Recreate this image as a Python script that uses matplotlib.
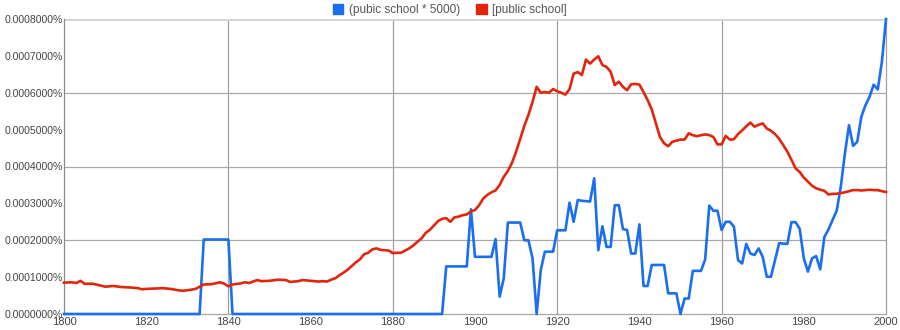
import matplotlib
matplotlib.use("Agg")
import matplotlib.pyplot as plt
from matplotlib.patches import Patch
from matplotlib.ticker import FuncFormatter

plt.rcParams['font.family'] = ['Liberation Sans', 'DejaVu Sans']

# values are in units of 1e-4 percent
SCALE = 1e-4

red_years = [1800, 1802, 1803, 1804, 1805, 1807, 1809, 1810, 1812, 1814, 1816, 1818, 1819,
             1820, 1822, 1824, 1826, 1828, 1829, 1831, 1832, 1833, 1834, 1836, 1838, 1839,
             1840, 1841, 1843, 1844, 1845, 1846, 1847, 1848, 1850, 1852, 1854, 1855, 1857,
             1858, 1860, 1862, 1863, 1864, 1865, 1866, 1867, 1868, 1869, 1870, 1871, 1872,
             1873, 1874, 1875, 1876, 1877, 1878, 1879, 1880, 1881, 1882, 1883, 1884, 1885,
             1886, 1887, 1888, 1889, 1890, 1891, 1892, 1893, 1894, 1895, 1896, 1897, 1898,
             1899, 1900, 1901, 1902, 1903, 1904, 1905, 1906, 1907, 1908, 1909, 1910, 1911,
             1912, 1913, 1914, 1915, 1916, 1917, 1918, 1919, 1920, 1921, 1922, 1923, 1924,
             1925, 1926, 1927, 1928, 1929, 1930, 1931, 1932, 1933, 1934, 1935, 1936, 1937,
             1938, 1939, 1940, 1941, 1942, 1943, 1944, 1945, 1946, 1947, 1948, 1949, 1950,
             1951, 1952, 1953, 1954, 1955, 1956, 1957, 1958, 1959, 1960, 1961, 1962, 1963,
             1964, 1965, 1966, 1967, 1968, 1969, 1970, 1971, 1972, 1973, 1974, 1975, 1976,
             1977, 1978, 1979, 1980, 1981, 1982, 1983, 1984, 1985, 1986, 1987, 1988, 1989,
             1990, 1991, 1992, 1993, 1994, 1995, 1996, 1997, 1998, 1999, 2000]
red_vals = [0.85, 0.86, 0.84, 0.90, 0.82, 0.82, 0.77, 0.74, 0.76, 0.73, 0.72, 0.70, 0.67,
            0.68, 0.69, 0.70, 0.68, 0.64, 0.63, 0.66, 0.68, 0.74, 0.80, 0.81, 0.86, 0.82,
            0.75, 0.80, 0.83, 0.86, 0.84, 0.88, 0.92, 0.89, 0.90, 0.93, 0.92, 0.87, 0.89,
            0.92, 0.90, 0.88, 0.89, 0.88, 0.93, 0.97, 1.05, 1.12, 1.20, 1.30, 1.40, 1.48,
            1.62, 1.66, 1.75, 1.78, 1.74, 1.73, 1.72, 1.65, 1.66, 1.66, 1.72, 1.78, 1.86,
            1.96, 2.05, 2.20, 2.28, 2.40, 2.52, 2.58, 2.60, 2.50, 2.62, 2.64, 2.68, 2.70,
            2.78, 2.82, 2.95, 3.13, 3.23, 3.30, 3.35, 3.50, 3.72, 3.88, 4.10, 4.40, 4.75,
            5.10, 5.40, 5.75, 6.16, 6.00, 6.02, 6.00, 6.10, 6.04, 6.00, 5.95, 6.10, 6.52,
            6.56, 6.48, 6.90, 6.79, 6.90, 6.99, 6.75, 6.70, 6.57, 6.21, 6.30, 6.16, 6.07,
            6.23, 6.24, 6.22, 6.02, 5.80, 5.55, 5.17, 4.80, 4.63, 4.55, 4.67, 4.70, 4.73,
            4.73, 4.90, 4.85, 4.82, 4.85, 4.87, 4.85, 4.80, 4.60, 4.60, 4.83, 4.73, 4.74,
            4.88, 4.98, 5.09, 5.19, 5.08, 5.13, 5.17, 5.03, 4.97, 4.88, 4.75, 4.58, 4.40,
            4.18, 3.95, 3.85, 3.70, 3.59, 3.48, 3.41, 3.37, 3.34, 3.24, 3.26, 3.26, 3.28,
            3.30, 3.33, 3.36, 3.36, 3.35, 3.36, 3.37, 3.36, 3.36, 3.33, 3.31]

blue_years = [1800, 1833, 1834, 1840, 1841, 1892, 1893, 1898, 1899, 1900, 1904, 1905, 1906,
              1907, 1908, 1911, 1912, 1913, 1914, 1915, 1916, 1917, 1919, 1920, 1922, 1923,
              1924, 1925, 1926, 1928, 1929, 1930, 1931, 1932, 1933, 1934, 1935, 1936, 1937,
              1938, 1939, 1940, 1941, 1942, 1943, 1946, 1947, 1949, 1950, 1951, 1952, 1953,
              1955, 1956, 1957, 1958, 1959, 1960, 1961, 1962, 1963, 1964, 1965, 1966, 1967,
              1968, 1969, 1970, 1971, 1972, 1973, 1974, 1976, 1977, 1978, 1979, 1980, 1981,
              1982, 1983, 1984, 1985, 1986, 1987, 1988, 1989, 1990, 1991, 1992, 1993, 1994,
              1995, 1996, 1997, 1998, 1999, 2000]
blue_vals = [0, 0, 2.02, 2.02, 0, 0, 1.29, 1.29, 2.84, 1.55, 1.55, 2.03, 0.47,
             0.97, 2.48, 2.48, 2.00, 2.00, 1.51, 0, 1.19, 1.69, 1.69, 2.27, 2.27, 3.02,
             2.50, 3.09, 3.07, 3.05, 3.68, 1.73, 2.38, 1.82, 1.82, 2.95, 2.95, 2.30, 2.28,
             1.64, 1.64, 2.43, 0.76, 0.76, 1.33, 1.33, 0.56, 0.56, 0, 0.42, 0.42, 1.17,
             1.17, 1.48, 2.94, 2.80, 2.80, 2.28, 2.50, 2.50, 2.37, 1.46, 1.37, 1.90, 1.64,
             1.60, 1.78, 1.55, 1.01, 1.01, 1.46, 1.92, 1.90, 2.49, 2.49, 2.31, 1.51, 1.15,
             1.51, 1.57, 1.21, 2.09, 2.29, 2.55, 2.80, 3.45, 4.35, 5.12, 4.56, 4.67, 5.35,
             5.66, 5.89, 6.22, 6.09, 6.84, 8.00]

labels = ['(pubic school * 5000)', '[public school]']
colors = ['#1a6ef0', '#e2260c']

fig = plt.figure(figsize=(9, 3.3), dpi=100)
ax = fig.add_axes([64 / 900, 1 - 314 / 330, 822 / 900, 295 / 330])

ax.plot(blue_years, [v * SCALE for v in blue_vals], color=colors[0], lw=1.9,
        clip_on=False, zorder=3)
ax.plot(red_years, [v * SCALE for v in red_vals], color=colors[1], lw=1.9,
        clip_on=False, zorder=4)

ax.set_xlim(1800, 2000)
ax.set_ylim(0, 0.0008)
ax.set_xticks(range(1800, 2001, 20))
ax.set_yticks([i * SCALE for i in range(9)])
ax.yaxis.set_major_formatter(FuncFormatter(lambda v, p: '%.7f%%' % v))
ax.tick_params(length=0, labelsize=7.6, labelcolor='#444444')
ax.tick_params(axis='y', pad=1)
ax.tick_params(axis='x', pad=2, labelsize=8)

# grid lines
for yr in [1840, 1880, 1920, 1960]:
    ax.axvline(yr, color='#a0a0a0', lw=0.9, zorder=1)
for v in [2, 4, 6]:
    ax.axhline(v * SCALE, color='#a8a8a8', lw=0.9, zorder=1)
ax.axhline(8 * SCALE, color='#d4d4d4', lw=2, zorder=1)

ax.spines['top'].set_visible(False)
ax.spines['left'].set_color('#8a8a8a')
ax.spines['right'].set_color('#a0a0a0')
ax.spines['bottom'].set_color('#a8a8a8')
for s in ax.spines.values():
    s.set_linewidth(0.9)

handles = [Patch(facecolor=c, edgecolor=c) for c in colors]
fig.legend(handles, labels, loc='upper center', bbox_to_anchor=(0.5, 1.02), ncol=2,
           frameon=False, fontsize=8.5, labelcolor='#555555', handlelength=0.9,
           handleheight=0.9, handletextpad=0.5, columnspacing=1.3)

fig.savefig('out.png', dpi=100)
